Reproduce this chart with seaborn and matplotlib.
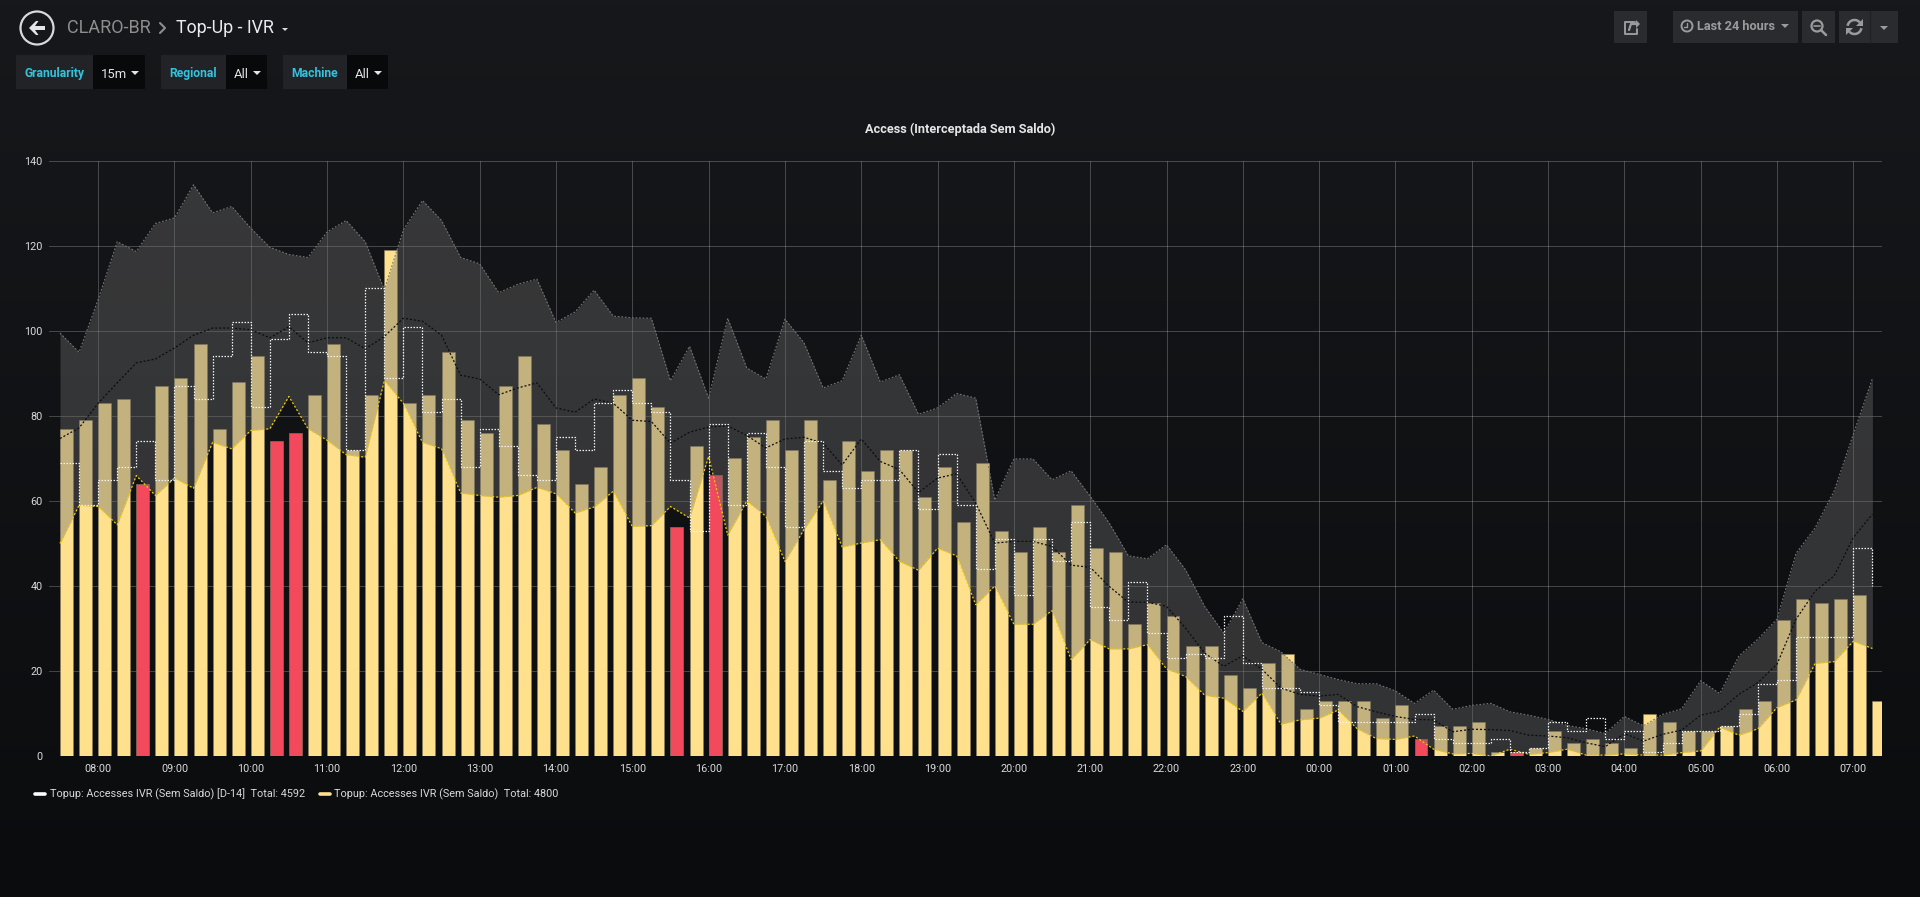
import numpy as np
import pandas as pd
import seaborn as sns
import matplotlib.pyplot as plt
from matplotlib.patches import Arc, Circle, Rectangle, Polygon

sns.set_theme(style='dark')
plt.rcParams['font.family'] = ['Roboto', 'DejaVu Sans']

# one value per 15 min, first point 07:30
current = [77, 79, 83, 84, 64, 87, 89, 97, 77, 88, 94, 74, 76, 85, 97, 72, 85, 119, 83, 85, 95, 79, 76, 87,
           94, 78, 72, 64, 68, 85, 89, 82, 54, 73, 66, 70, 75, 79, 72, 79, 65, 74, 67, 72, 72, 61, 68, 55,
           69, 53, 48, 54, 48, 59, 49, 48, 31, 36, 33, 26, 26, 19, 16, 22, 24, 11, 13, 13, 13, 9, 12, 4,
           7, 7, 8, 1, 1, 2, 6, 3, 4, 3, 2, 10, 8, 6, 6, 7, 11, 13, 32, 37, 36, 37, 38, 13]
d14 = [69, 59, 65, 68, 74, 65, 87, 84, 94, 102, 82, 98, 104, 95, 94, 72, 110, 89, 101, 81, 84, 68, 77, 73,
       66, 65, 75, 72, 83, 86, 83, 81, 65, 53, 78, 59, 76, 68, 54, 74, 67, 63, 65, 65, 72, 58, 71, 59,
       44, 51, 38, 51, 46, 55, 35, 32, 41, 29, 23, 24, 23, 33, 22, 16, 16, 15, 12, 8, 8, 8, 8, 10,
       4, 3, 3, 4, 1, 2, 8, 6, 9, 4, 6, 1, 3, 6, 6, 7, 10, 17, 18, 28, 28, 28, 49, 40]
upper = [99.5, 95, 107.4, 121, 118.7, 125.3, 126.6, 134.4, 127.8, 129.3, 124.2, 119.7, 118, 117.3, 123.3, 126,
         121, 109.7, 123.8, 130.7, 126, 117.3, 115.8, 109, 111, 112.2, 102, 104.5, 109.6, 103.5, 103.1, 103,
         88.3, 96.4, 84.2, 103, 91.3, 88.7, 102.8, 97.2, 86.6, 88.3, 99, 88, 89.7, 80.4, 81.9, 85.3,
         84.2, 60.2, 69.9, 69.9, 65, 67.1, 61.1, 54.8, 47.1, 46.4, 49.7, 43.8, 35.2, 28.9, 37, 26.7,
         24.5, 20.4, 19.2, 18, 17, 17, 15.3, 12.4, 15.5, 11, 11.9, 12.4, 10.4, 9.6, 8.6, 7.2,
         6.4, 5.3, 9.3, 7.1, 9.8, 11.1, 17.7, 14.7, 23.5, 27.5, 32.2, 47.7, 53.7, 62.4, 75.7, 88.8]
mean = [74.7, 77.2, 83, 87.8, 92.5, 93.4, 96, 99, 100.7, 100.7, 100.3, 98.4, 101, 97.2, 98.4, 98.4,
        95.8, 98.7, 103, 102.3, 99, 89.6, 88.7, 85, 86.6, 87.8, 81.9, 80.9, 84, 83, 79, 78.7,
        73.6, 76.2, 77.4, 77.7, 75.4, 72.5, 74.6, 75, 73.6, 68.5, 74.6, 69.3, 67.4, 62, 65.4, 66.4,
        59.5, 50.1, 50.5, 50.5, 49.3, 44.9, 44.4, 39.9, 36.2, 36.2, 35.2, 30.1, 24.2, 21.1, 23.6, 20.4,
        16, 14.5, 14.1, 14.5, 11.6, 10.4, 9.3, 8.6, 8.5, 5.7, 6.3, 6.2, 6, 4.9, 4.7, 4.3,
        3.1, 2.2, 5.3, 3.5, 5.1, 6.1, 9.6, 10.6, 14.5, 17.3, 21.6, 32.2, 38.8, 42.4, 51.4, 56.9]
lower = [50, 59, 58.7, 54.4, 66, 61.3, 65.4, 63, 73.8, 72.3, 76.6, 77, 84.6, 77, 74.3, 70.9,
         70.3, 88.3, 83, 73.8, 72.3, 61.9, 61.3, 60.9, 61.3, 63.2, 61.7, 57.2, 58.6, 62.3, 54, 54.2,
         58.7, 56, 70.5, 52, 60, 56.4, 45.8, 53.3, 60, 49.2, 50.1, 50.9, 45.8, 43.7, 48.9, 47.1,
         35.6, 40, 31, 31, 34.2, 22.7, 27.4, 25.2, 25.2, 26.2, 20.5, 18.7, 14.3, 13.6, 10.5, 14.8,
         7.5, 8.5, 8.9, 10.8, 6.4, 4.1, 3.9, 4.7, 1.6, 0.5, 0.6, 0, 1.6, 0.4, 0.8, 1.6,
         0.2, 0.2, 0.5, 0.2, 0.2, 0.8, 1.2, 6.8, 4.9, 6.4, 11.4, 13.2, 21.8, 22.2, 27, 25.3]
# slots whose bar is painted red
low_slots = [4, 11, 12, 32, 34, 71, 76]
hour_labels = ['08:00', '09:00', '10:00', '11:00', '12:00', '13:00', '14:00', '15:00', '16:00', '17:00', '18:00',
               '19:00', '20:00', '21:00', '22:00', '23:00', '00:00', '01:00', '02:00', '03:00', '04:00', '05:00',
               '06:00', '07:00']
y_ticks = [0, 20, 40, 60, 80, 100, 120, 140]

W, H = 1920, 897
BAR = 0.68
df = pd.DataFrame({'t': np.arange(len(current)) * 0.25, 'current': current, 'd14': d14,
                   'upper': upper, 'mean': mean, 'lower': lower})
df['bar_x'] = df.t + BAR * 0.25 / 2
df['state'] = 'ok'
df.loc[low_slots, 'state'] = 'low'

fig = plt.figure(figsize=(W / 100, H / 100), dpi=100)

# page background + header live in a pixel-coordinate axes
page = fig.add_axes([0, 0, 1, 1], zorder=0)
page.imshow(np.linspace(0, 1, 256).reshape(-1, 1), extent=(0, W, H, 0), aspect='auto', zorder=0,
            cmap=sns.blend_palette(['#17181b', '#0b0c0e'], as_cmap=True))
page.set_xlim(0, W)
page.set_ylim(H, 0)
page.axis('off')

ax = fig.add_axes([49 / W, (H - 756) / H, (1882 - 49) / W, (756 - 161) / H], zorder=1)
ax.patch.set_alpha(0)

sns.barplot(data=df, x='bar_x', y='current', hue='state', native_scale=True, dodge=False, width=BAR,
            palette={'ok': '#ffe08c', 'low': '#f2495c'}, saturation=1, errorbar=None, legend=False,
            edgecolor='#8a7f5c', linewidth=0.4, zorder=2, ax=ax)
ax.fill_between(df.t, df.lower, df.upper, color='#6b6b6b', alpha=0.4, linewidth=0, zorder=3)
dots = (0, (1.6, 1.6))
sns.lineplot(x=df.t, y=df.upper, color='#757575', linewidth=0.8, linestyle=dots, errorbar=None, zorder=4, ax=ax)
sns.lineplot(x=df.t, y=df.lower, color='#f2cc0c', linewidth=0.9, linestyle=dots, errorbar=None, zorder=4, ax=ax)
sns.lineplot(x=df.t, y=df['mean'], color='#0b0c0e', linewidth=0.9, linestyle=dots, errorbar=None, zorder=4, ax=ax)
sns.lineplot(x=df.t, y=df.d14, color='#f2f2f2', linewidth=0.9, linestyle=(0, (1.2, 1.2)), drawstyle='steps-post',
             errorbar=None, zorder=5, ax=ax)

ax.set_xlim(-0.144, 23.876)
ax.set_ylim(0, 140)
ax.set_xticks(0.5 + np.arange(len(hour_labels)), hour_labels)
ax.set_yticks(y_ticks)
ax.set_xlabel('')
ax.set_ylabel('')
ax.tick_params(length=0, labelsize=7.8, labelcolor='#d8d9da')
ax.tick_params(axis='x', pad=6)
ax.tick_params(axis='y', pad=4.5)
ax.grid(True, color='white', alpha=0.22, linewidth=0.72)
ax.set_axisbelow(True)
sns.despine(ax=ax, left=True, bottom=True)

page.text(960, 129, 'Access (Interceptada Sem Saldo)', color='#e4e5e6', fontsize=9.2, fontweight='bold',
          ha='center', va='center')

# legend
page.plot([35, 45], [794, 794], color='white', linewidth=2.6, solid_capstyle='round')
page.text(50, 794, 'Topup: Accesses IVR (Sem Saldo) [D-14]  Total: 4592', color='#d8d9da', fontsize=7.8, va='center')
page.plot([320, 330], [794, 794], color='#ffe08c', linewidth=2.6, solid_capstyle='round')
page.text(334, 794, 'Topup: Accesses IVR (Sem Saldo)  Total: 4800', color='#d8d9da', fontsize=7.85, va='center')

# header left
page.add_patch(Circle((37, 28), 16.5, fill=False, edgecolor='#d8d9da', linewidth=1.6))
page.add_patch(Polygon([(29, 28), (36, 21), (38.5, 21), (35, 26), (45, 26), (45, 30), (35, 30), (38.5, 35), (36, 35)],
                       color='#e4e5e6', linewidth=0))
page.text(67, 28, 'CLARO-BR', color='#8e8e8e', fontsize=13, va='center')
page.plot([160, 165, 160], [23, 28, 33], color='#8e8e8e', linewidth=1.5)
page.text(176, 28, 'Top-Up - IVR', color='#e9edf2', fontsize=12.8, va='center')
page.add_patch(Polygon([(282, 28), (288, 28), (285, 31)], color='#d8d9da', linewidth=0))

# filters
filters = [('Granularity', '15m', 16, 93, 145), ('Regional', 'All', 161, 226, 267), ('Machine', 'All', 283, 347, 388)]
for name, val, x0, x1, x2 in filters:
    page.add_patch(Rectangle((x0, 55.5), x1 - x0, 34, color='#212327', linewidth=0))
    page.add_patch(Rectangle((x1, 55.5), x2 - x1, 34, color='#08090b', linewidth=0))
    page.text(x0 + 8.5, 73.5, name, color='#33c4dd', fontsize=8.7, fontweight='bold', va='center')
    page.text(x1 + 7.5, 74, val, color='#e4e5e6', fontsize=9.4, va='center')
    page.add_patch(Polygon([(x2 - 14, 71), (x2 - 6, 71), (x2 - 10, 75)], color='#e4e5e6', linewidth=0))

# header right
for x0, x1 in [(1614, 1647), (1673, 1798), (1802, 1835), (1839, 1898)]:
    page.add_patch(Rectangle((x0, 11), x1 - x0, 32, color='#2a2b2e', linewidth=0))
page.plot([1870, 1870], [11, 43], color='#212225', linewidth=1)
icon = '#9a9b9c'
page.plot([1635, 1625, 1625, 1637, 1637], [22, 22, 34, 34, 29], color=icon, linewidth=1.4)
page.plot([1629, 1631, 1637], [30, 24, 24], color=icon, linewidth=1.6)
page.add_patch(Polygon([(1636, 20), (1640, 24), (1636, 28)], color=icon, linewidth=0))
page.add_patch(Circle((1687, 26), 5.5, fill=False, edgecolor=icon, linewidth=1.4))
page.plot([1687, 1687, 1684], [23, 27, 27], color=icon, linewidth=1)
page.text(1697, 26, 'Last 24 hours', color=icon, fontsize=9.2, fontweight='bold', va='center')
page.add_patch(Polygon([(1781, 24), (1789, 24), (1785, 28)], color=icon, linewidth=0))
page.add_patch(Circle((1817, 26), 5.5, fill=False, edgecolor=icon, linewidth=1.6))
page.plot([1821, 1826], [30, 35], color=icon, linewidth=1.8)
page.plot([1814, 1820], [26, 26], color=icon, linewidth=1.2)
page.add_patch(Arc((1854.5, 27), 14, 14, theta1=190, theta2=320, edgecolor=icon, linewidth=1.8))
page.add_patch(Arc((1854.5, 27), 14, 14, theta1=10, theta2=140, edgecolor=icon, linewidth=1.8))
page.add_patch(Polygon([(1863, 19), (1863, 26), (1856, 26)], color=icon, linewidth=0))
page.add_patch(Polygon([(1846, 35), (1846, 28), (1853, 28)], color=icon, linewidth=0))
page.add_patch(Polygon([(1880, 26), (1888, 26), (1884, 30)], color=icon, linewidth=0))

fig.savefig('out.png', dpi=100, facecolor='#0b0c0e')
plt.close(fig)
